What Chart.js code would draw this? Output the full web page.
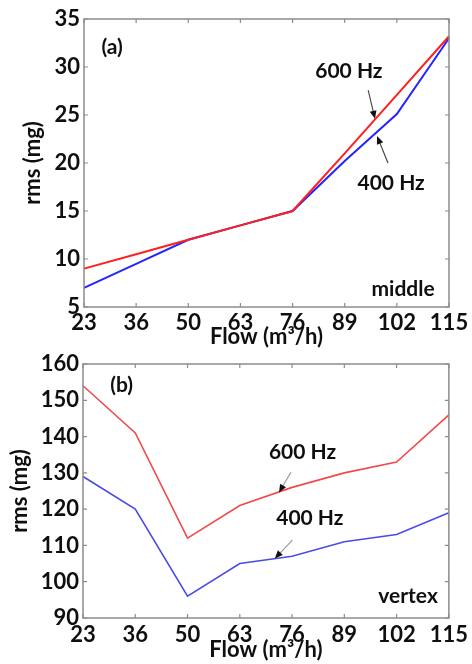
<!DOCTYPE html>
<html>
<head>
<meta charset="utf-8">
<script src="https://cdn.jsdelivr.net/npm/chart.js@4/dist/chart.umd.min.js"></script>
<style>
  html, body { margin: 0; padding: 0; background: #fff; }
  body { width: 472px; height: 664px; position: relative; overflow: hidden; }
  .wrap { position: absolute; left: 0; width: 472px; }
  #wa { top: 0; height: 350px; }
  #wb { top: 340px; height: 324px; }
  canvas { display: block; }
</style>
</head>
<body>
<div class="wrap" id="wa"><canvas id="ca"></canvas></div>
<div class="wrap" id="wb"><canvas id="cb"></canvas></div>
<script>
// ---------- data ----------
const flowLabels = ['23', '36', '50', '63', '76', '89', '102', '115'];

// (a) middle
const middle600 = [9, 10.5, 12, 13.5, 15, 21, 27.1, 33.2];
const middle400 = [7, 9.5, 12, 13.5, 15, 20.2, 25.1, 33];
const yTicksA = [5, 10, 15, 20, 25, 30, 35];

// (b) vertex
const vertex600 = [154, 141, 112, 121, 126, 130, 133, 146];
const vertex400 = [129, 120, 96, 105, 107, 111, 113, 119];
const yTicksB = [90, 100, 110, 120, 130, 140, 150, 160];

const xTitle = 'Flow (m³/h)';
const yTitle = 'rms (mg)';

// ---------- styling ----------
const FONT = "'Lato', 'Liberation Sans', sans-serif";
const TXT = '#0f0f0f';
const FRAME = '#8c8c8c';

function framePlugin(annos) {
  return {
    id: 'frameAnno',
    afterDatasetsDraw(chart) {
      const ctx = chart.ctx;
      const a = chart.chartArea;
      const xs = chart.scales.x, ys = chart.scales.y;
      ctx.save();
      ctx.strokeStyle = FRAME;
      ctx.lineWidth = 1.5;
      ctx.strokeRect(a.left, a.top, a.right - a.left, a.bottom - a.top);
      ctx.lineWidth = 1.2;
      const L = 4;
      ctx.beginPath();
      xs.ticks.forEach((t, i) => {
        const px = xs.getPixelForTick(i);
        ctx.moveTo(px, a.bottom); ctx.lineTo(px, a.bottom - L);
        ctx.moveTo(px, a.top); ctx.lineTo(px, a.top + L);
      });
      ys.ticks.forEach((t, i) => {
        const py = ys.getPixelForTick(i);
        ctx.moveTo(a.left, py); ctx.lineTo(a.left + L, py);
        ctx.moveTo(a.right, py); ctx.lineTo(a.right - L, py);
      });
      ctx.stroke();

      // annotations
      annos.texts.forEach(t => {
        ctx.font = 'bold ' + t.size + 'px ' + FONT;
        ctx.fillStyle = TXT;
        ctx.textAlign = 'center';
        ctx.textBaseline = 'middle';
        ctx.fillText(t.text, xs.getPixelForValue(t.x), ys.getPixelForValue(t.y));
      });
      annos.arrows.forEach(ar => {
        const x1 = xs.getPixelForValue(ar.x1), y1 = ys.getPixelForValue(ar.y1);
        const x2 = xs.getPixelForValue(ar.x2), y2 = ys.getPixelForValue(ar.y2);
        const ang = Math.atan2(y2 - y1, x2 - x1);
        const hl = 8, hw = 3.4;
        ctx.strokeStyle = ar.color;
        ctx.lineWidth = 1.1;
        ctx.beginPath();
        ctx.moveTo(x1, y1);
        ctx.lineTo(x2 - Math.cos(ang) * hl * 0.6, y2 - Math.sin(ang) * hl * 0.6);
        ctx.stroke();
        ctx.fillStyle = '#111';
        ctx.beginPath();
        ctx.moveTo(x2, y2);
        ctx.lineTo(x2 - Math.cos(ang) * hl - Math.sin(ang) * hw, y2 - Math.sin(ang) * hl + Math.cos(ang) * hw);
        ctx.lineTo(x2 - Math.cos(ang) * hl + Math.sin(ang) * hw, y2 - Math.sin(ang) * hl - Math.cos(ang) * hw);
        ctx.closePath();
        ctx.fill();
      });
      ctx.restore();
    }
  };
}

function makeChart(id, cfg) {
  const el = document.getElementById(id);
  el.width = 472; el.height = cfg.height;
  el.style.width = '472px'; el.style.height = cfg.height + 'px';
  return new Chart(el, {
    type: 'line',
    data: {
      labels: flowLabels,
      datasets: [
        { data: cfg.red, borderColor: cfg.redColor, borderWidth: cfg.lw, pointRadius: 0, tension: 0, fill: false },
        { data: cfg.blue, borderColor: cfg.blueColor, borderWidth: cfg.lw, pointRadius: 0, tension: 0, fill: false }
      ]
    },
    options: {
      responsive: false,
      animation: false,
      events: [],
      layout: { padding: { left: 0, right: cfg.padRight, top: cfg.padTop, bottom: 0 } },
      plugins: { legend: { display: false }, tooltip: { enabled: false }, title: { display: false } },
      scales: {
        x: {
          type: 'category',
          offset: false,
          grid: { display: false, drawTicks: false },
          border: { display: false },
          ticks: { color: TXT, font: { family: FONT, size: 22, weight: 'bold' }, padding: cfg.xTickPad, maxRotation: 0, autoSkip: false },
          title: { display: true, text: xTitle, color: TXT, font: { family: FONT, size: 22, weight: 'bold' }, padding: { top: 0, bottom: cfg.xTitlePad } },
          afterFit(s) { s.height = cfg.xAxisH; }
        },
        y: {
          min: cfg.yTicks[0],
          max: cfg.yTicks[cfg.yTicks.length - 1],
          grid: { display: false, drawTicks: false },
          border: { display: false },
          afterBuildTicks(s) { s.ticks = cfg.yTicks.map(v => ({ value: v })); },
          ticks: { color: TXT, font: { family: FONT, size: 22, weight: 'bold' }, padding: 4 },
          title: { display: true, text: yTitle, color: TXT, font: { family: FONT, size: 22, weight: 'bold' }, padding: { top: cfg.yTitlePad, bottom: cfg.yTitlePad } },
          afterFit(s) { s.width = cfg.yAxisW; }
        }
      }
    },
    plugins: [framePlugin(cfg.annos)]
  });
}

makeChart('ca', {
  height: 350, padTop: 19, padRight: 23, yAxisW: 84, xAxisH: 43,
  xTickPad: 3, xTitlePad: 0, yTitlePad: 20,
  red: middle600, blue: middle400, redColor: '#ff1f1f', blueColor: '#2424ff', lw: 2,
  yTicks: yTicksA,
  annos: {
    texts: [
      { text: '(a)', x: 0.54, y: 32.1, size: 21 },
      { text: '600 Hz', x: 5.08, y: 29.6, size: 21 },
      { text: '400 Hz', x: 5.89, y: 17.9, size: 21 },
      { text: 'middle', x: 6.12, y: 6.8, size: 21 }
    ],
    arrows: [
      { x1: 5.45, y1: 27.6, x2: 5.58, y2: 24.6, color: '#444' },
      { x1: 5.83, y1: 20.0, x2: 5.62, y2: 22.8, color: '#444' }
    ]
  }
});

makeChart('cb', {
  height: 324, padTop: 24, padRight: 21, yAxisW: 83, xAxisH: 46,
  xTickPad: 4, xTitlePad: 1, yTitlePad: 7,
  red: vertex600, blue: vertex400, redColor: '#f24a4a', blueColor: '#4b4be6', lw: 1.6,
  yTicks: yTicksB,
  annos: {
    texts: [
      { text: '(b)', x: 0.74, y: 154.2, size: 21 },
      { text: '600 Hz', x: 4.2, y: 135.8, size: 21 },
      { text: '400 Hz', x: 4.34, y: 117.6, size: 21 },
      { text: 'vertex', x: 6.22, y: 96.1, size: 21 }
    ],
    arrows: [
      { x1: 3.98, y1: 130.2, x2: 3.75, y2: 124.6, color: '#999' },
      { x1: 4.01, y1: 111.5, x2: 3.67, y2: 106.4, color: '#999' }
    ]
  }
});
</script>
</body>
</html>
